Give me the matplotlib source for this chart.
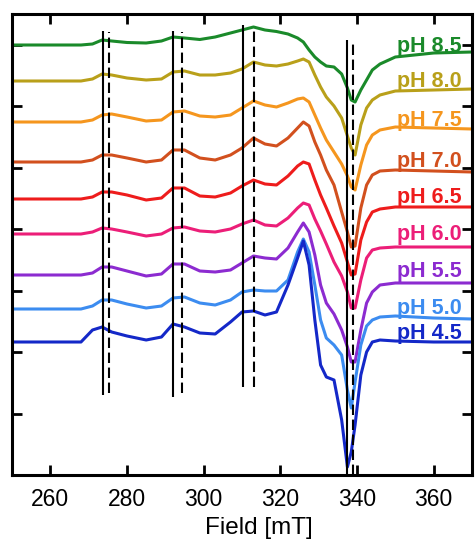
import matplotlib
matplotlib.use("Agg")
import matplotlib.pyplot as plt

plt.rcParams['font.family'] = ['Liberation Sans', 'DejaVu Sans']

# ---- data ----
field = [250, 268, 271, 273.5, 276, 280, 285, 289, 292, 295, 299, 303, 307, 310, 313,
         316, 319, 322, 324.5, 326, 327.5, 329, 330.5, 332, 334, 336, 337.5, 338.5,
         339.5, 341, 342.5, 344, 346, 350, 360, 370]

ph85 = [430,430,431,435,434,432.5,432,434,438,437,435.5,438,442,445,448,445,443.5,441,437,433,425,418,413,409,408,401,387,375,373,385,395,405,411,418,422,423]
ph80 = [394,394,396,401,400,397,395,396,403,404,400,400,402,406,413,410,409,411,414,416,413,400,388,378,369,357,339,327,320,350,367,375,380,384,385,386]
ph75 = [353,353,355,360,361,358,354,355,363,364,359,358,360,367,374,370,368,372,376,377,373,360,347,335,323,311,299,288,285,310,330,340,345,348,347,346]
ph70 = [313,313,315,320,320,317,313,315,325,325,317,315,320,327,337,331,329,337,347,353,349,333,320,305,290,263,243,228,229,267,290,300,304,305,304,303]
ph65 = [276,276,278,283,283,280,275,277,287,287,279,278,282,289,295,291,290,299,309,313,311,295,280,267,249,232,213,200,201,235,253,263,266,268,268,268]
ph60 = [241,241,243,247,246,243,239,241,247,248,244,243,246,251,255,250,249,257,267,272,270,256,244,231,213,199,183,167,167,195,217,225,227,228,228,228]
ph55 = [200,200,202,208,208,204,199,201,211,211,204,203,205,212,219,217,216,227,243,252,243,220,190,172,161,145,128,113,113,145,172,183,190,192,192,192]
ph50 = [166,166,169,175,175,171,167,169,177,178,172,170,175,183,185,184,184,195,223,236,223,190,155,137,130,120,85,67,93,130,149,155,158,159,157,156]
ph45 = [133,133,145,148,143,139,135,138,151,148,142,141,153,163,164,160,163,190,217,234,210,155,110,98,95,55,8,23,50,100,123,133,135,134,133,133]

series = [ph85, ph80, ph75, ph70, ph65, ph60, ph55, ph50, ph45]
labels = ["pH 8.5", "pH 8.0", "pH 7.5", "pH 7.0", "pH 6.5", "pH 6.0", "pH 5.5", "pH 5.0", "pH 4.5"]
colors = ["#1A8A2A", "#B9A01A", "#F5961E", "#D2501E", "#EE1C1C", "#EC1E78",
          "#8C2BD0", "#3C8CF0", "#1428C8"]
label_y = [422.7, 388, 349, 308, 272, 235, 198, 161, 136]

solid_x = [273.7, 291.9, 310.3, 337.5]
solid_lo = [80, 78, 88, 0]
solid_hi = [444, 444, 450, 435]
dash_x = [275.3, 294.3, 313.2, 338.9]
dash_lo = [82, 82, 88, 0]
dash_hi = [443, 443, 447, 433]

xticks = [260, 280, 300, 320, 340, 360]

# ---- plot ----
fig = plt.figure(figsize=(4.75, 5.42), dpi=100)
ax = fig.add_axes([12/475, 1-475/542, 460/475, 461/542])

for ys, c in zip(series, colors):
    ax.plot(field, ys, color=c, lw=2.2, solid_joinstyle='round')

ax.vlines(solid_x, solid_lo, solid_hi, colors='black', lw=1.5)
ax.vlines(dash_x, dash_lo, dash_hi, colors='black', lw=1.5, linestyles=(0, (5.0, 2.2)))

for lab, c, y in zip(labels, colors, label_y):
    ax.text(367.3, y, lab, color=c, fontsize=15.5, fontweight='bold',
            ha='right', va='baseline')

ax.set_xlim(250, 370)
ax.set_ylim(0, 461)
ax.set_xticks(xticks)
ax.set_xticklabels([str(t) for t in xticks])
ax.set_yticks([61.5 * k for k in range(1, 8)])
ax.set_yticklabels([])
ax.tick_params(direction='in', length=7, width=2, top=True, right=True,
               labelsize=16.5, pad=9)
for s in ax.spines.values():
    s.set_linewidth(2.2)
ax.set_xlabel("Field [mT]", fontsize=17.5)
ax.xaxis.set_label_coords(0.537, -0.092)

fig.savefig("out.png", dpi=100)
